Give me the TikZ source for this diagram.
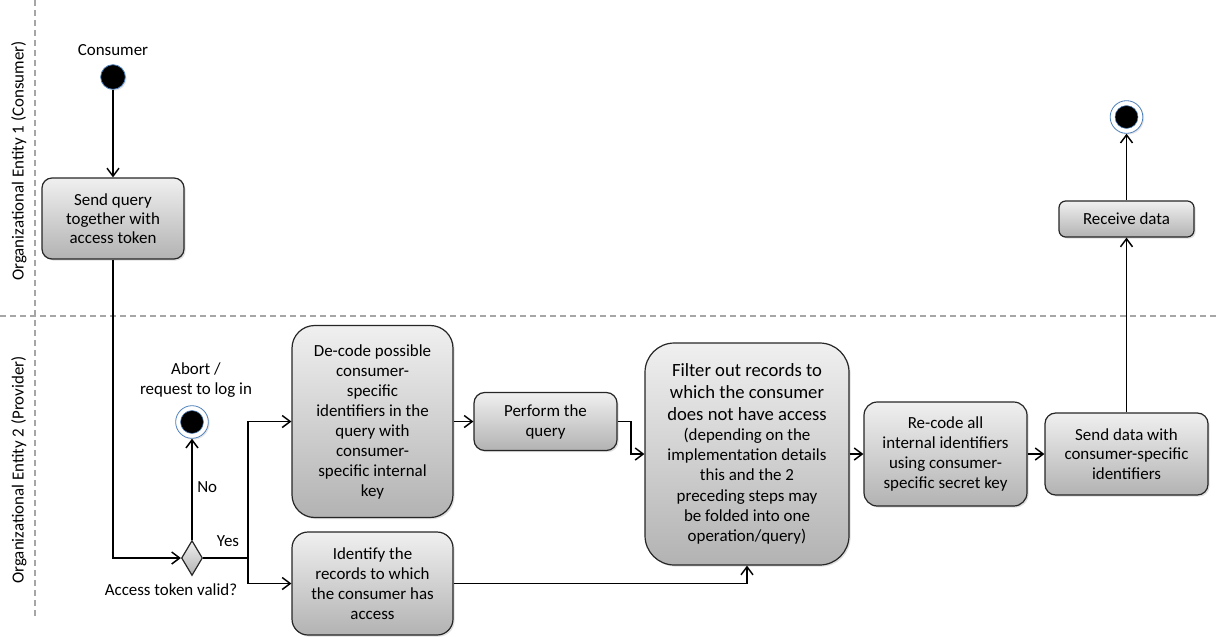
\documentclass[tikz,border=0pt]{standalone}
\usepackage{fontspec}
\setmainfont{Carlito}
\usetikzlibrary{arrows.meta,shapes.geometric,shadows}

\definecolor{ringblue}{HTML}{4F81BD}
\definecolor{lanegray}{HTML}{A6A6A6}

\newcommand\bigline[1]{{\fontsize{14}{15.2}\selectfont #1}}

\begin{document}
\begin{tikzpicture}[x=0.75pt,y=-0.75pt,
  txt/.style={font=\fontsize{12.7}{15}\selectfont, align=center, inner sep=0pt},
  act/.style={draw=black!85, line width=0.9pt, rounded corners=#1,
    top color=black!6, bottom color=black!30,
    drop shadow={shadow xshift=1.2pt, shadow yshift=-1.2pt, opacity=0.25},
    txt},
  act/.default=8pt,
  flow/.style={draw=black, line width=1.1pt,
    -{Straight Barb[length=6pt,width=9pt]}},
  plain/.style={draw=black, line width=1.1pt},
  lane/.style={draw=lanegray, line width=1.1pt, dash pattern=on 4.5pt off 3pt},
  startnode/.style={circle, fill=black, draw=ringblue, line width=0.6pt,
    minimum size=18.5pt, inner sep=0pt,
    drop shadow={shadow xshift=1pt, shadow yshift=-1pt, opacity=0.2}},
  endnode/.style={circle, fill=white, draw=ringblue, line width=0.6pt,
    minimum size=24.5pt, inner sep=0pt,
    drop shadow={shadow xshift=1pt, shadow yshift=-1pt, opacity=0.2}},
  decision/.style={diamond, draw=black!85, line width=0.9pt,
    top color=black!6, bottom color=black!30,
    minimum width=15.75pt, minimum height=26.25pt, inner sep=0pt}
]
\useasboundingbox (0,0) rectangle (1219,636);

% swimlane separators and lane titles
\draw[lane] (35,0) -- (35,620);
\draw[lane] (0,316) -- (1219,316);
\node[txt, rotate=90] (lane1) at (19,161) {Organizational Entity 1 (Consumer)};
\node[txt, rotate=90] (lane2) at (19,470) {Organizational Entity 2 (Provider)};

% consumer side
\node[txt] (consumer) at (113,50) {Consumer};
\node[startnode] (start) at (113,77) {};
\node[act=7.5pt, minimum width=106.5pt, minimum height=60.75pt,
      font=\fontsize{12.7}{14.4}\selectfont]
  (send) at (113,218.5) {Send query\\together with\\access token};

% provider side
\node[decision] (valid) at (192,558) {};
\node[txt] (validlbl) at (171,590) {Access token valid?};
\node[endnode] (abort) at (192,422) {};
\fill[black] (abort.center) circle (8.6pt);
\draw[ringblue, line width=0.4pt] (abort.center) circle (8.6pt);
\node[txt] (abortlbl) at (196,380) {Abort /\\request to log in};

\node[act=17pt, minimum width=120.75pt, minimum height=144pt]
  (dec) at (372.5,421.5) {De-code possible\\consumer-\\specific\\identifiers in the\\query with\\consumer-\\specific internal\\key};
\node[act=12pt, minimum width=120.75pt, minimum height=77.25pt]
  (ident) at (372.5,583.5) {Identify the\\records to which\\the consumer has\\access};
\node[act=8pt, minimum width=107.25pt, minimum height=43.5pt]
  (perf) at (545.5,421.5) {Perform the\\query};
\node[act=22pt, minimum width=153pt, minimum height=166.5pt,
      font=\fontsize{12.7}{15.2}\selectfont]
  (filt) at (747,454) {\bigline{Filter out records to}\\[1.1pt]\bigline{which the consumer}\\[1.1pt]\bigline{does not have access}\\(depending on the\\implementation details\\this and the 2\\preceding steps may\\be folded into one\\operation/query)};
\node[act=10pt, minimum width=122.25pt, minimum height=78pt]
  (rec) at (945.5,454) {Re-code all\\internal identifiers\\using consumer-\\specific secret key};
\node[act=8pt, minimum width=122.25pt, minimum height=61.5pt,
      font=\fontsize{12.7}{14.6}\selectfont]
  (sdat) at (1126.5,454) {Send data with\\consumer-specific\\identifiers};

% consumer side, end of the flow
\node[act=5pt, minimum width=101.25pt, minimum height=27pt]
  (recv) at (1126.5,219) {Receive data};
\node[endnode] (done) at (1126.5,117) {};
\fill[black] (done.center) circle (8.6pt);
\draw[ringblue, line width=0.4pt] (done.center) circle (8.6pt);

% connectors
\coordinate (split) at (248,558);
\coordinate (bend) at (631,421.5);
\draw[flow] (start) -- (send);
\draw[flow] (send.south) |- (valid.west);
\draw[flow] (valid.north) -- (abort.south);
\node[txt, anchor=west] (nolbl) at (197,487) {No};
\draw[plain] (valid.east) -- (split);
\node[txt] (yeslbl) at (228,541) {Yes};
\draw[flow] (split) |- (dec.west);
\draw[flow] (split) |- (ident.west);
\draw[flow] (dec.east) -- (perf.west);
\draw[flow] (perf.east) -- (bend) |- (filt.west);
\draw[flow] (ident.east) -| (filt.south);
\draw[flow] (filt.east) -- (rec.west);
\draw[flow] (rec.east) -- (sdat.west);
\draw[flow] (sdat.north) -- (recv.south);
\draw[flow] (recv.north) -- (done.south);
\end{tikzpicture}
\end{document}
